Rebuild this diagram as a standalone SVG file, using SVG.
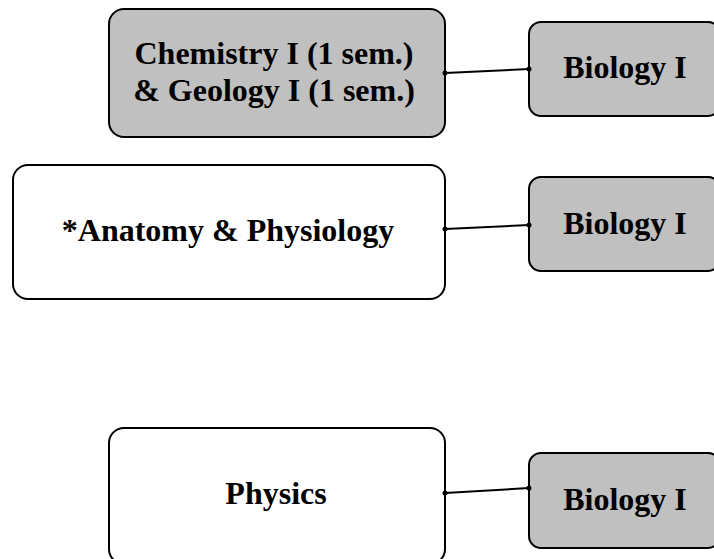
<svg xmlns="http://www.w3.org/2000/svg" width="714" height="559" viewBox="0 0 714 559">
<defs>
<style>
.box{stroke:#000;stroke-width:2}
.grey{fill:#c0c0c0}
.white{fill:#fff}
.lbl{font-family:"Liberation Serif","Times New Roman",serif;font-weight:bold;font-size:32px;fill:#000;text-anchor:middle}
.conn{stroke:#000;stroke-width:2;fill:none}
.dot{fill:#000}
</style>
</defs>
<rect width="714" height="559" fill="#fff"/>
<g id="chem">
<rect class="box grey" x="109" y="9" width="336" height="128" rx="15"/>
<text class="lbl" x="274" y="64">Chemistry I (1 sem.)</text>
<text class="lbl" x="274" y="101">&amp; Geology I (1 sem.)</text>
</g>
<g id="bio1">
<rect class="box grey" x="529" y="22" width="191" height="94" rx="12"/>
<text class="lbl" x="625" y="78">Biology I</text>
</g>
<g id="anat">
<rect class="box white" x="13" y="165" width="432" height="134" rx="15"/>
<text class="lbl" x="228" y="241">*Anatomy &amp; Physiology</text>
</g>
<g id="bio2">
<rect class="box grey" x="529" y="177" width="191" height="94" rx="12"/>
<text class="lbl" x="625" y="234">Biology I</text>
</g>
<g id="phys">
<rect class="box white" x="109" y="428" width="336" height="136" rx="15"/>
<text class="lbl" x="276" y="504">Physics</text>
</g>
<g id="bio3">
<rect class="box grey" x="529" y="453" width="191" height="95" rx="12"/>
<text class="lbl" x="625" y="510">Biology I</text>
</g>
<g id="connectors">
<line class="conn" x1="445" y1="73" x2="529" y2="69"/>
<circle class="dot" cx="445" cy="73" r="2.5"/>
<circle class="dot" cx="529" cy="69" r="2.5"/>
<line class="conn" x1="445" y1="229" x2="529" y2="225"/>
<circle class="dot" cx="445" cy="229" r="2.5"/>
<circle class="dot" cx="529" cy="225" r="2.5"/>
<line class="conn" x1="445" y1="493" x2="529" y2="488"/>
<circle class="dot" cx="445" cy="493" r="2.5"/>
<circle class="dot" cx="529" cy="488" r="2.5"/>
</g>
</svg>
